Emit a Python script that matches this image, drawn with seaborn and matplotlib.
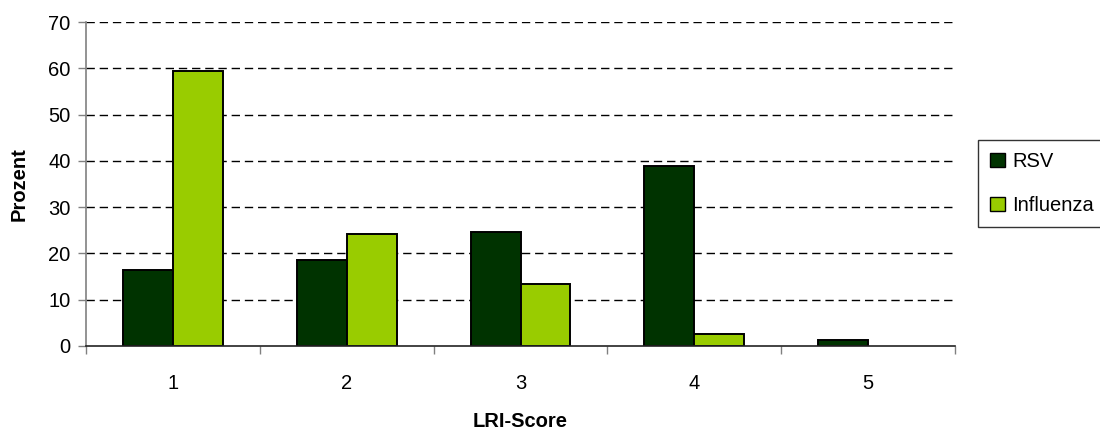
import matplotlib
matplotlib.use("Agg")
import matplotlib.pyplot as plt
from matplotlib.patches import Patch
import seaborn as sns
import pandas as pd

# LRI score categories and share of patients per virus (percent)
scores = ["1", "2", "3", "4", "5"]
rsv = [16.4, 18.6, 24.7, 38.9, 1.3]
influenza = [59.5, 24.2, 13.4, 2.6, 0.0]
series_names = ["RSV", "Influenza"]
palette = {"RSV": "#003300", "Influenza": "#99CC00"}
y_ticks = [0, 10, 20, 30, 40, 50, 60, 70]

df = pd.DataFrame({
    "score": scores * 2,
    "value": rsv + influenza,
    "series": [series_names[0]] * len(scores) + [series_names[1]] * len(scores),
})

sns.set_theme(style="white")
plt.rcParams["font.family"] = ["Liberation Sans", "DejaVu Sans"]
plt.rcParams["text.color"] = "black"
plt.rcParams["axes.labelcolor"] = "black"
plt.rcParams["xtick.labelcolor"] = "black"
plt.rcParams["ytick.labelcolor"] = "black"

FS = 14.5

fig = plt.figure(figsize=(11, 4.29), dpi=100)
ax = fig.add_axes([0.0782, 0.1935, 0.79, 0.7552])

sns.barplot(data=df, x="score", y="value", hue="series", order=scores,
            hue_order=series_names, palette=palette, width=0.575,
            edgecolor="black", linewidth=1.4, saturation=1, ax=ax,
            legend=False)

# empty bars leave no outline on the baseline
for patch in ax.patches:
    if patch.get_height() == 0:
        patch.set_linewidth(0)

ax.set_xlim(-0.5, len(scores) - 0.5)
ax.set_ylim(0, 70)
ax.set_yticks(y_ticks)
ax.tick_params(axis="y", which="major", direction="out", length=6, width=1,
               color="#808080", labelsize=FS, pad=5, left=True)

# category labels centred, tick marks on the category boundaries
ax.set_xticks(range(len(scores)))
ax.set_xticklabels(scores)
ax.tick_params(axis="x", which="major", length=0, labelsize=FS, pad=20)
ax.set_xticks([i - 0.5 for i in range(len(scores) + 1)], minor=True)
ax.tick_params(axis="x", which="minor", direction="out", length=6, width=1,
               color="#808080", bottom=True)

for y in y_ticks[1:]:
    ax.axhline(y, color="black", linewidth=1, linestyle=(0, (6, 3.5)), zorder=0)

for side in ["top", "right"]:
    ax.spines[side].set_visible(False)
ax.spines["left"].set_color("#808080")
ax.spines["left"].set_linewidth(1.2)
ax.spines["bottom"].set_color("#222222")
ax.spines["bottom"].set_linewidth(1.2)

ax.set_xlabel("LRI-Score", fontsize=FS, fontweight="bold", labelpad=14)
ax.set_ylabel("Prozent", fontsize=FS, fontweight="bold", labelpad=14)

handles = [Patch(facecolor=palette[n], edgecolor="black", linewidth=1) for n in series_names]
leg = fig.legend(handles, series_names, loc="upper left",
                 bbox_to_anchor=(0.889, 0.674), frameon=True, fancybox=False,
                 fontsize=FS, handlelength=0.75, handleheight=0.75,
                 handletextpad=0.35, labelspacing=1.25, borderpad=0.6,
                 borderaxespad=0)
leg.get_frame().set_edgecolor("black")
leg.get_frame().set_linewidth(1)

fig.savefig("out.png", dpi=100, facecolor="white")
